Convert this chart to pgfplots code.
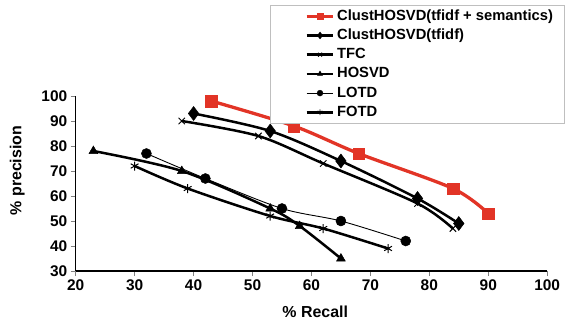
\documentclass[border=0pt]{standalone}
\usepackage{fontspec}
\setmainfont{Liberation Sans}
\usepackage{pgfplots}
\pgfplotsset{compat=1.18}
\definecolor{redc}{RGB}{226,52,38}
\begin{document}
\begin{tikzpicture}
\path[use as bounding box] (0,0) rectangle (571bp,320bp);
\begin{axis}[
  at={(75.7bp,49bp)}, anchor=south west,
  scale only axis, width=471.5bp, height=175bp,
  xmin=20, xmax=100, ymin=30, ymax=100,
  xtick={20,30,...,100}, ytick={30,40,...,100},
  axis lines=left, axis line style={-, line width=1.1bp, black},
  tick align=outside, major tick length=5bp,
  tick style={line width=0.6bp, gray},
  /pgf/number format/assume math mode=true,
  tick label style={font=\fontsize{15.5}{18}\selectfont\bfseries},
  xlabel={\% Recall}, ylabel={\% precision},
  label style={font=\fontsize{16}{19}\selectfont\bfseries},
  xlabel style={at={(axis description cs:0.508,-0.232)}, anchor=center},
  ylabel style={at={(axis description cs:-0.124,0.574)}, anchor=center},
  legend image code/.code={%
    \path (-1.1cm,0cm);
    \draw[mark repeat=2,mark phase=2,#1] plot coordinates {(0cm,0cm) (0.475cm,0cm) (0.95cm,0cm)};},
  legend cell align=left,
  legend style={at={(axis description cs:0.413,1.52)}, anchor=north west,
    draw=gray!50, line width=0.6bp, fill=white,
    font=\fontsize{14.8}{17}\selectfont\bfseries,
    nodes={text height=11bp, text depth=3bp, inner ysep=2bp},
    row sep=1.2bp},
  clip=false,
]
% LOTD
\addplot[black, line width=0.9bp, smooth, mark=*, mark size=5bp, mark options={solid, line width=0.5bp}, forget plot]
  coordinates {(32,77) (42,67) (55,55) (65,50) (76,42)};
% FOTD
\addplot[black, line width=2.5bp, smooth, mark=asterisk, mark size=4.5bp, mark options={solid, line width=1bp}, forget plot]
  coordinates {(30,72) (39,63) (53,52) (62,47) (73,39)};
% HOSVD
\addplot[black, line width=2.5bp, smooth, mark=triangle*, mark size=5bp, mark options={solid, line width=0.5bp}, forget plot]
  coordinates {(23,78) (38,70) (53,55) (58,48) (65,35)};
% TFC
\addplot[black, line width=2.5bp, smooth, mark=x, mark size=4.5bp, mark options={solid, line width=1bp}, forget plot]
  coordinates {(38,90) (51,84) (62,73) (78,57) (84,47)};
% ClustHOSVD(tfidf)
\addplot[black, line width=2.5bp, smooth, mark=diamond*, mark size=7bp, mark options={solid, line width=0.5bp}, forget plot]
  coordinates {(40,93) (53,86) (65,74) (78,59) (85,49)};
% ClustHOSVD(tfidf + semantics)
\addplot[redc, line width=3.3bp, smooth, mark=square*, mark size=5.8bp, mark options={solid, line width=0.3bp}, forget plot]
  coordinates {(43,98) (57,88) (68,77) (84,63) (90,53)};

\addlegendimage{redc, line width=3.3bp, mark=square*, mark size=3.3bp, mark options={solid, line width=0.3bp}}
\addlegendentry{\makebox[222bp][l]{ClustHOSVD(tfidf + semantics)}}
\addlegendimage{black, line width=2.5bp, mark=diamond*, mark size=3.5bp, mark options={solid, line width=0.3bp}}
\addlegendentry{ClustHOSVD(tfidf)}
\addlegendimage{black, line width=2.5bp, mark=x, mark size=2.8bp, mark options={solid, line width=0.8bp}}
\addlegendentry{TFC}
\addlegendimage{black, line width=2.5bp, mark=triangle*, mark size=3bp, mark options={solid, line width=0.3bp}}
\addlegendentry{HOSVD}
\addlegendimage{black, line width=0.9bp, mark=*, mark size=3bp, mark options={solid, line width=0.3bp}}
\addlegendentry{LOTD}
\addlegendimage{black, line width=2.5bp, mark=asterisk, mark size=2.8bp, mark options={solid, line width=0.8bp}}
\addlegendentry{FOTD}
\end{axis}
\end{tikzpicture}
\end{document}
